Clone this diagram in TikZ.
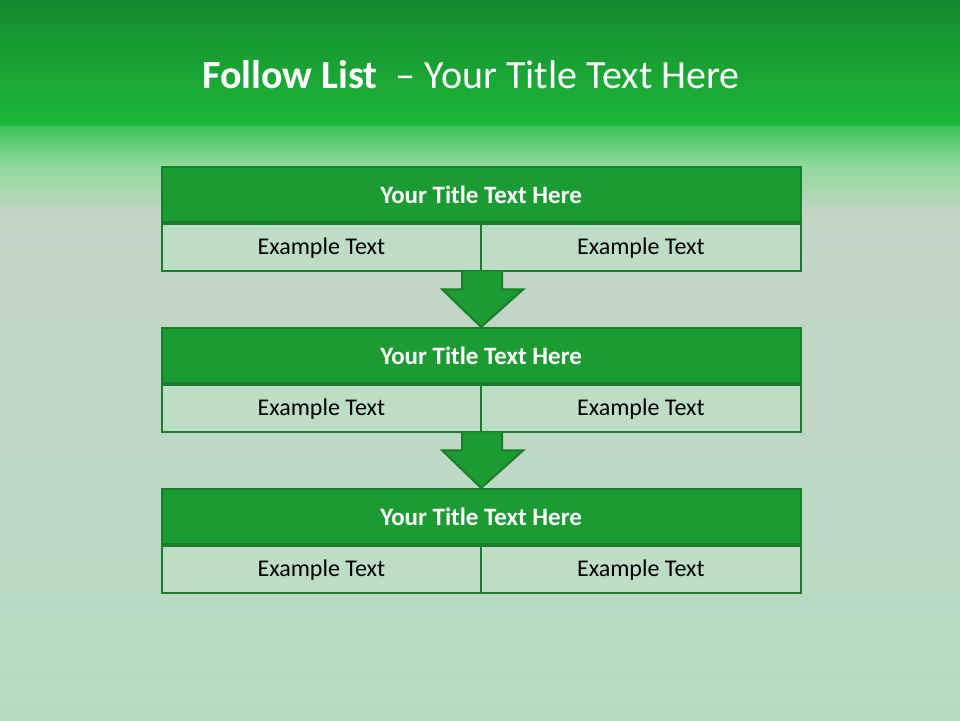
\documentclass[tikz,border=0pt]{standalone}
\usepackage{fontspec}
\setmainfont{Carlito}
\usetikzlibrary{calc}
\definecolor{bandtop}{HTML}{148A2C}
\definecolor{bandbot}{HTML}{1EB83B}
\definecolor{fadeA}{HTML}{3CC458}
\definecolor{fadeB}{HTML}{8FD99A}
\definecolor{greyA}{HTML}{C4D5C8}
\definecolor{greyB}{HTML}{B6DCC0}
\definecolor{titlefill}{HTML}{1A9C33}
\definecolor{edge}{HTML}{1A7D2B}
\definecolor{cellfill}{HTML}{BEDDC5}
\tikzset{
  titlebox/.style={draw=edge,line width=2.2pt,fill=titlefill,minimum width=639pt,minimum height=55pt,inner sep=0pt,text=white,font=\fontsize{25}{30}\selectfont\bfseries},
  cellbox/.style={draw=edge,line width=2.2pt,fill=cellfill,minimum width=319.5pt,minimum height=47pt,inner sep=0pt,text=black,font=\fontsize{24}{29}\selectfont},
  downarrow/.style={draw=edge,line width=2pt,fill=titlefill,line join=miter}
}
\begin{document}
\begin{tikzpicture}[x=1pt,y=-1pt]
\useasboundingbox (0,0) rectangle (960,720);
% background
\shade[top color=bandtop,bottom color=bandbot] (0,0) rectangle (960,126);
\shade[top color=fadeA,bottom color=fadeB] (0,126) rectangle (960,165);
\shade[top color=fadeB,bottom color=greyA] (0,165) rectangle (960,215);
\shade[top color=greyA,bottom color=greyB] (0,215) rectangle (960,720);
% title
\node (maintitle) at (471,75) {\color{white}\fontsize{40}{48}\selectfont\textbf{Follow List}\ \ – Your Title Text Here};
% blocks
\foreach \i/\y in {1/166,2/327,3/488}{
  \node[titlebox,anchor=north west] (t\i) at (160.5,\y) {Your Title Text Here};
  \node[cellbox,anchor=north west] (l\i) at (t\i.south west) {Example Text};
  \node[cellbox,anchor=north east] (r\i) at (t\i.south east) {Example Text};
}
% arrows
\foreach \a/\b in {1/2,2/3}{
  \coordinate (s\a) at (l\a.south east);
  \coordinate (e\a) at (t\b.north);
  \draw[downarrow] ($(s\a)+(-20,-1)$) -- ($(s\a)+(-20,17)$) -- ($(s\a)+(-40,17)$) -- (e\a) -- ($(s\a)+(41,17)$) -- ($(s\a)+(20,17)$) -- ($(s\a)+(20,-1)$);
}
\end{tikzpicture}
\end{document}
